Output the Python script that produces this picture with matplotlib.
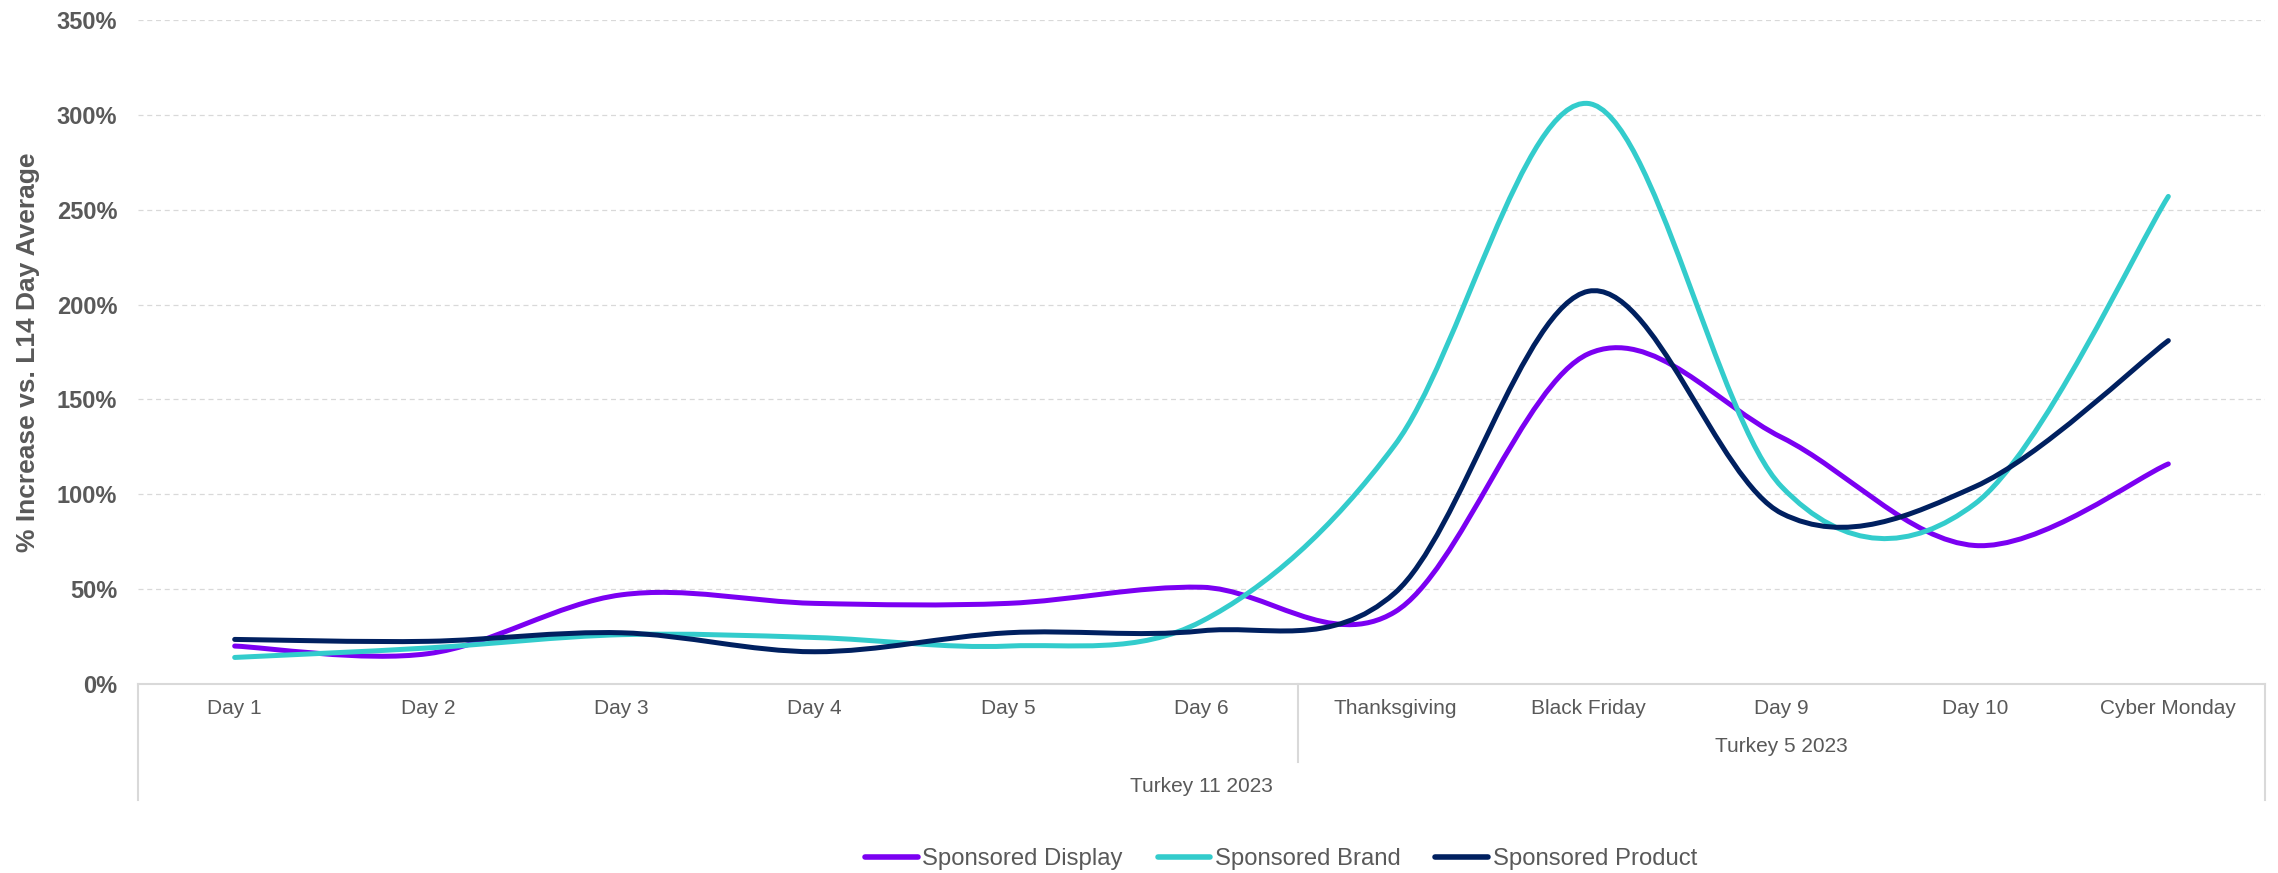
import matplotlib
matplotlib.use("Agg")
import matplotlib.pyplot as plt
from matplotlib.path import Path
from matplotlib.patches import PathPatch
from matplotlib.lines import Line2D
from matplotlib.ticker import FuncFormatter
import numpy as np

categories = ["Day 1", "Day 2", "Day 3", "Day 4", "Day 5", "Day 6",
              "Thanksgiving", "Black Friday", "Day 9", "Day 10", "Cyber Monday"]
groups = ["Turkey 11 2023", "Turkey 5 2023"]
series_names = ["Sponsored Display", "Sponsored Brand", "Sponsored Product"]
sponsored_display = [20, 16, 47, 42.5, 42.5, 51, 38, 174, 130, 73, 116]
sponsored_brand = [14, 19, 26, 24.5, 20, 33, 126, 306, 104, 95, 257]
sponsored_product = [23.5, 22.5, 27, 17, 27, 28, 48, 207, 90, 104, 181]
yticks = [0, 50, 100, 150, 200, 250, 300, 350]

colors = ["#7B00F2", "#33CCCC", "#002060"]
grey = "#595959"
light = "#D9D9D9"

plt.rcParams['font.family'] = ['Liberation Sans', 'DejaVu Sans']

W, H = 2278, 873
fig = plt.figure(figsize=(W / 100, H / 100), dpi=100)
left, right, top, bottom = 138, 2265, 20, 684
ax = fig.add_axes([left / W, 1 - bottom / H, (right - left) / W, (bottom - top) / H])

x = np.arange(len(categories))


def smooth_path(xs, ys):
    pts = np.column_stack([xs, ys]).astype(float)
    n = len(pts)
    verts = [pts[0]]
    codes = [Path.MOVETO]
    for i in range(n - 1):
        p0 = pts[i - 1] if i > 0 else pts[i]
        p1 = pts[i]
        p2 = pts[i + 1]
        p3 = pts[i + 2] if i + 2 < n else pts[i + 1]
        c1 = p1 + (p2 - p0) / 6.0
        c2 = p2 - (p3 - p1) / 6.0
        verts += [c1, c2, p2]
        codes += [Path.CURVE4] * 3
    return Path(verts, codes)


for vals, c in zip([sponsored_display, sponsored_brand, sponsored_product], colors):
    patch = PathPatch(smooth_path(x, vals), fill=False, edgecolor=c, lw=3.6,
                      capstyle='round', joinstyle='round', zorder=3)
    ax.add_patch(patch)

ax.set_xlim(-0.5, len(categories) - 0.5)
ax.set_ylim(0, 350)
ax.set_yticks(yticks)
ax.yaxis.set_major_formatter(FuncFormatter(lambda v, p: f"{int(v)}%"))
ax.tick_params(axis='y', length=0, pad=15, labelsize=17, labelcolor=grey)
for lab in ax.get_yticklabels():
    lab.set_fontweight('bold')
ax.set_xticks([])
ax.grid(axis='y', color=light, linestyle=(0, (4, 3)), lw=0.9, zorder=0)
for s in ['top', 'right', 'left']:
    ax.spines[s].set_visible(False)
ax.spines['bottom'].set_color(light)
ax.spines['bottom'].set_linewidth(1.5)

ax.set_ylabel("% Increase vs. L14 Day Average", fontsize=19, fontweight='bold',
              color=grey)
ax.yaxis.set_label_coords(-(left - 40) / (right - left), 0.5)

# multi-level category axis
axh = bottom - top
trans = ax.get_xaxis_transform()
def fy(px):
    return -px / axh

for i, cat in enumerate(categories):
    ax.text(i, fy(24), cat, transform=trans, ha='center', va='center',
            fontsize=15, color=grey, clip_on=False)
n = len(categories)
split = 5.5
ax.text((split + n - 0.5) / 2, fy(63), groups[1], transform=trans, ha='center',
        va='center', fontsize=15, color=grey)
ax.text((n - 1) / 2, fy(102), groups[0], transform=trans, ha='center',
        va='center', fontsize=15, color=grey)
for xv, depth in [(-0.5, 116), (split, 78), (n - 0.5, 116)]:
    ax.add_line(Line2D([xv, xv], [0, fy(depth)], transform=trans, color=light,
                       lw=1.5, clip_on=False))

handles = [Line2D([], [], color=c, lw=4, solid_capstyle='round') for c in colors]
leg = fig.legend(handles, series_names, loc='center', bbox_to_anchor=(1281 / W, 1 - 859 / H),
                 ncol=3, frameon=False, fontsize=17.2, handlelength=2.2,
                 handletextpad=0.2, columnspacing=1.45)
for t in leg.get_texts():
    t.set_color(grey)

fig.savefig("out.png", dpi=100, facecolor='white')
